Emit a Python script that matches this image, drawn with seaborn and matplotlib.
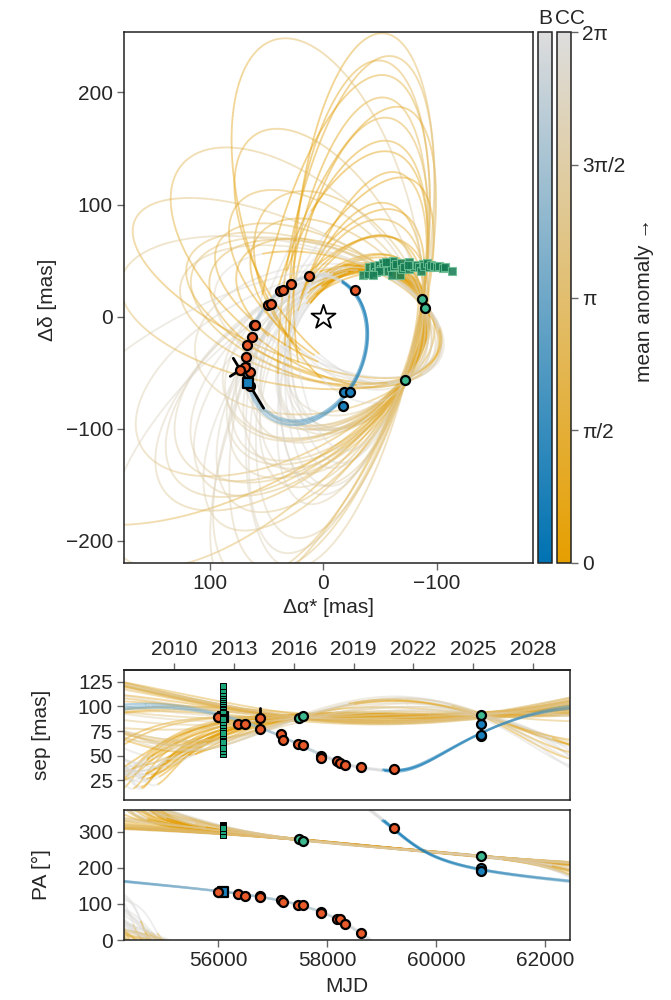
import numpy as np
import matplotlib
matplotlib.use("Agg")
import matplotlib.pyplot as plt
import seaborn as sns
from matplotlib.collections import LineCollection
from matplotlib.colors import LinearSegmentedColormap, Normalize
from matplotlib.cm import ScalarMappable

sns.set_theme(style="white")
plt.rcParams['font.family'] = ['Liberation Sans', 'DejaVu Sans']

# ---- relative astrometry ----------------------------------------------
# planet B, older epochs (vermillion points)
b_mjd = [55995, 56372, 56491, 56770, 56775, 57150, 57195, 57470, 57560,
         57878, 57882, 58180, 58240, 58320, 58615, 59215]
b_sep = [89.5, 82, 82, 88, 77.5, 72, 66, 62, 61, 50, 47.5, 44.5, 43, 41, 38.5, 36.5]
b_pa = [134, 127.5, 123, 123, 118, 111, 106, 97, 97, 78, 76, 59, 57, 45, 19, 311]
b_sep_err = [0, 0, 0, 10, 0, 0, 0, 0, 0, 0, 0, 0, 0, 0, 0, 0]
# planet B, recent epoch (blue points)
b2_mjd = [60810, 60810, 60810]
b2_sep = [70, 71, 82]
b2_pa = [195, 199, 192]
# planet B, single epoch with correlated error (blue square)
bsq_mjd = [56080]
bsq_sep = [89.0]
bsq_pa = [132.0]
bsq_err_major = 26.0      # mas
bsq_err_angle = 31.0      # deg, position angle of major axis
# planet C (green points)
c_mjd = [57480, 57560, 60810]
c_sep = [88, 90, 91.5]
c_pa = [280, 275, 232]
# planet C, candidate positions at one epoch (green squares)
sq_mjd = 56080
sq_ra = [-35.2, -39.0, -40.5, -43.5, -44.9, -46.4, -47.9, -49.3, -50.8, -52.3, -53.7,
         -55.2, -56.7, -58.2, -59.6, -61.1, -60.5, -62.6, -64.0, -67.6, -68.4, -69.3,
         -71.4, -75.2, -75.8, -77.2, -80.2, -82.2, -84.6, -86.0, -87.5, -89.0, -91.0,
         -93.4, -94.9, -97.8, -99.9, -102.2, -105.2, -107.5, -113.4, -74.3, -49.3,
         -43.5, -55.2]
sq_dec = [37.5, 38.1, 44.0, 42.6, 45.5, 39.6, 44.6, 46.4, 42.6, 47.6, 44.0, 45.5,
          41.1, 48.5, 44.6, 49.4, 37.5, 45.5, 47.0, 37.5, 47.6, 42.6, 44.6, 48.5, 42.6,
          45.5, 44.6, 46.4, 44.0, 40.5, 47.0, 45.5, 47.6, 44.6, 46.4, 45.5, 44.0, 45.5,
          43.5, 44.6, 41.1, 46.4, 41.1, 37.5, 48.5]

# ---- posterior orbit draws (Thiele-Innes elements, mas; P in yr; tp in MJD) ----
b_period = [22.5, 22.0, 23.0]
b_ecc = [0.480, 0.480, 0.480]
b_tp = [50768, 51009, 50607]
b_A = [60.55, 58.53, 62.01]
b_B = [-30.30, -31.57, -30.92]
b_F = [-28.48, -31.77, -29.09]
b_G = [-50.94, -48.50, -50.24]

c_period = [40.8, 37.1, 52.8, 54.2, 47.3, 44.3, 39.8, 39.7, 60.3, 33.2,
            86.4, 69.6, 38.2, 59.4, 42.6, 76.9, 91.9, 50.1, 61.6, 45.8,
            43.3, 118.0, 87.3, 99.2, 44.3, 128.7, 100.8, 66.0, 51.3, 50.6,
            65.0, 86.8, 77.8, 62.8, 121.2, 79.3, 111.4, 42.0, 88.1, 41.2,
            115.2, 45.7, 131.6, 49.1, 120.3, 46.5, 154.7, 79.3, 132.8, 60.9,
            70.6, 110.4, 42.5, 71.9, 116.3, 82.7, 63.5, 45.9, 49.1, 35.3]
c_ecc = [0.651, 0.704, 0.439, 0.486, 0.653, 0.467, 0.687, 0.621, 0.618, 0.663,
         0.569, 0.587, 0.702, 0.615, 0.565, 0.560, 0.616, 0.520, 0.655, 0.508,
         0.545, 0.692, 0.506, 0.458, 0.075, 0.295, 0.530, 0.453, 0.302, 0.574,
         0.571, 0.549, 0.600, 0.319, 0.418, 0.598, 0.335, 0.372, 0.636, 0.049,
         0.516, 0.070, 0.629, 0.104, 0.459, 0.436, 0.190, 0.419, 0.300, 0.529,
         0.616, 0.619, 0.262, 0.565, 0.610, 0.553, 0.267, 0.116, 0.443, 0.217]
c_tp = [54119, 54595, 54663, 54800, 54885, 54190, 54244, 54117, 54914, 54577,
        54697, 55039, 54439, 54587, 54258, 55040, 55052, 54658, 54741, 54767,
        54682, 54695, 39078, 36566, 46575, 43979, 32702, 51623, 55460, 49722,
        52055, 55574, 53677, 38024, 29624, 54280, 41660, 47869, 53557, 53692,
        49678, 43578, 55779, 58492, 47139, 46115, 31163, 33157, 36423, 51939,
        37011, 28251, 46910, 48412, 21819, 45701, 58389, 44441, 44600, 50502]
c_A = [41.4, 39.2, 71.5, 71.0, 56.3, 52.9, 40.4, 42.1, 74.8, 32.4,
       101.1, 90.1, 38.9, 71.1, 48.1, 92.8, 105.8, 64.5, 77.7, 58.2,
       52.2, 129.8, -41.8, -48.3, -59.3, 133.1, -92.3, 70.9, 66.8, 11.6,
       70.0, 92.0, 98.9, -79.7, -88.1, 94.8, 60.9, -37.6, 106.8, 58.8,
       134.0, -55.4, 112.8, -13.5, 135.5, -53.5, 23.6, -105.6, 40.0, 64.3,
       -87.3, -107.7, -54.7, 43.8, -140.5, 34.8, -13.1, -67.1, -62.2, -22.4]
c_B = [38.7, 40.2, 6.1, 1.8, 19.9, 32.7, 35.6, 39.7, 3.0, 44.4,
       -43.1, -21.7, 39.5, 6.5, 32.2, -35.7, -48.2, 11.8, 4.6, 22.0,
       26.9, -70.4, 61.7, 62.9, 0.4, 15.6, 60.1, 24.3, -25.3, 53.0,
       24.2, -67.1, -5.4, -99.7, 69.0, -20.9, 48.6, 41.7, -14.9, 56.8,
       -7.7, -93.7, -127.0, -113.6, -2.7, 36.0, 66.7, -50.6, 56.1, 30.8,
       9.1, 58.3, 6.2, 44.1, 6.1, 45.5, -140.0, -64.1, 13.9, 61.6]
c_F = [81.8, 85.0, 32.8, 33.0, 67.0, 56.2, 84.9, 85.2, 53.9, 78.2,
       27.1, 38.5, 88.3, 58.8, 68.1, 23.7, 28.1, 47.5, 68.6, 46.8,
       54.7, 47.7, 174.7, 187.4, 25.3, 137.2, 181.8, 84.8, -8.1, 113.3,
       107.2, -3.4, 74.1, -11.3, 192.4, 51.6, 176.8, 68.1, 79.4, 16.4,
       112.5, -37.5, -28.7, -61.1, 144.0, 78.6, 222.9, 16.8, 204.6, 100.0,
       92.7, 193.4, 43.4, 143.6, 103.5, 173.0, -69.7, -6.5, 65.4, 62.3]
c_G = [-68.9, -62.7, -101.6, -100.3, -96.8, -76.4, -74.0, -68.1, -110.8, -61.3,
       -129.2, -126.4, -65.8, -107.5, -80.5, -127.3, -137.6, -96.5, -114.3, -90.5,
       -86.9, -166.6, -8.1, -6.7, 101.0, -90.4, 19.4, -87.5, -107.7, -32.1,
       -80.2, -131.5, -113.6, 98.4, 2.1, -124.3, -61.8, 73.5, -123.5, -81.3,
       -108.7, 58.6, -151.7, -16.1, -111.0, 75.6, -47.3, 112.0, -63.6, -77.4,
       106.2, 28.3, 100.6, -53.9, 106.7, -57.4, -23.2, 94.5, 98.6, 67.7]

mjd_range = (54273, 62450)
year_ticks = [2010, 2013, 2016, 2019, 2022, 2025, 2028]
cb_ticks = ["0", "π/2", "π", "3π/2", "2π"]

# ---- helpers -----------------------------------------------------------
def radec(sep, pa):
    p = np.radians(np.asarray(pa, float))
    s = np.asarray(sep, float)
    return s*np.sin(p), s*np.cos(p)

def kepler(M, e):
    E = np.where(e > 0.8, np.pi + 0*M, M)
    for _ in range(40):
        E = E - (E - e*np.sin(E) - M)/(1 - e*np.cos(E))
    return E

def ti_coords(E, e):
    return np.cos(E) - e, np.sqrt(1 - e**2)*np.sin(E)

W, H = 671, 1000
fig = plt.figure(figsize=(W/100, H/100), dpi=100)
def rect(l, t, r, b):
    return [l/W, 1-b/H, (r-l)/W, (b-t)/H]

cmapB = LinearSegmentedColormap.from_list("meanB", ["#0072B2", "#DDDDDD"])
cmapC = LinearSegmentedColormap.from_list("meanC", ["#E69F00", "#DDDDDD"])

ax = fig.add_axes(rect(124, 32, 533, 563))
axs = fig.add_axes(rect(124, 670, 570, 800))
axp = fig.add_axes(rect(124, 810, 570, 940))
caxB = fig.add_axes(rect(538, 32, 552, 563))
caxC = fig.add_axes(rect(557, 32, 571, 563))

tt = np.linspace(mjd_range[0], mjd_range[1], 1200)
Eg = np.linspace(0, 2*np.pi, 700)

def draw_orbit(P, e, tp, A, B, F, G, cmap, alpha, lw):
    # projected orbit on the sky, coloured by mean anomaly
    X, Y = ti_coords(Eg, e)
    dec = A*X + F*Y
    ra = B*X + G*Y
    M = Eg - e*np.sin(Eg)
    pts = np.column_stack([ra, dec])
    seg = np.stack([pts[:-1], pts[1:]], 1)
    ax.add_collection(LineCollection(seg, colors=cmap((M[:-1] + M[1:])/(4*np.pi)),
                                     alpha=alpha, lw=lw, zorder=2))
    # separation and position angle against time
    M = np.mod(2*np.pi*(tt - tp)/(P*365.25), 2*np.pi)
    X, Y = ti_coords(kepler(M, e), e)
    dec = A*X + F*Y
    ra = B*X + G*Y
    sep = np.hypot(ra, dec)
    pa = np.mod(np.degrees(np.arctan2(ra, dec)), 360)
    cols = cmap(M[:-1]/(2*np.pi))
    for axis, yv in ((axs, sep), (axp, pa)):
        p2 = np.column_stack([tt, yv])
        seg = np.stack([p2[:-1], p2[1:]], 1)
        keep = np.abs(np.diff(yv)) < 180
        axis.add_collection(LineCollection(seg[keep], colors=cols[keep],
                                           alpha=alpha, lw=lw, zorder=2))

for k in range(len(c_period)):
    draw_orbit(c_period[k], c_ecc[k], c_tp[k], c_A[k], c_B[k], c_F[k], c_G[k],
               cmapC, 0.5, 1.3)
for k in range(len(b_period)):
    draw_orbit(b_period[k], b_ecc[k], b_tp[k], b_A[k], b_B[k], b_F[k], b_G[k],
               cmapB, 0.6, 1.6)

RED, GREEN, BLUE = "#E85A2A", "#3DB88F", "#1A80BB"
pt = dict(edgecolor="black", linewidth=1.6, s=42, zorder=6, legend=False)

# green squares
sq_sep = np.hypot(sq_ra, sq_dec)
sq_pa = np.mod(np.degrees(np.arctan2(sq_ra, sq_dec)), 360)
sns.scatterplot(x=sq_ra, y=sq_dec, marker="s", color="#137A52", edgecolor="#6DBF94",
                linewidth=0.8, s=30, alpha=0.85, zorder=5, ax=ax, legend=False)
for axis, yv in ((axs, sq_sep), (axp, sq_pa)):
    sns.scatterplot(x=np.full(len(sq_ra), sq_mjd), y=yv, marker="s", color="#1AA67A",
                    edgecolor="black", linewidth=0.7, s=18, zorder=8, ax=axis, legend=False)

# error bars
for m, s, p, err in zip(b_mjd, b_sep, b_pa, b_sep_err):
    if err > 0:
        x0, y0 = radec([s - err, s + err], [p, p])
        ax.plot(x0, y0, color="black", lw=2, zorder=5)
        axs.plot([m, m], [s - err, s + err], color="black", lw=2, zorder=5)
x_sq, y_sq = radec(bsq_sep, bsq_pa)
ang = np.radians(bsq_err_angle)
ax.plot([x_sq[0] - bsq_err_major*np.sin(ang), x_sq[0] + bsq_err_major*np.sin(ang)],
        [y_sq[0] - bsq_err_major*np.cos(ang), y_sq[0] + bsq_err_major*np.cos(ang)],
        color="black", lw=2, zorder=5)

# sky-plane points
x, y = radec(b_sep, b_pa)
sns.scatterplot(x=x, y=y, color=RED, ax=ax, **pt)
sns.scatterplot(x=x_sq, y=y_sq, marker="s", color=BLUE, ax=ax, **pt)
x, y = radec(b2_sep, b2_pa)
sns.scatterplot(x=x, y=y, color=BLUE, ax=ax, **pt)
x, y = radec(c_sep, c_pa)
sns.scatterplot(x=x, y=y, color=GREEN, ax=ax, **pt)
ax.scatter([0], [0], marker="*", s=330, c="white", edgecolor="black", linewidth=1.3, zorder=7)

# time series points
for axis, yb, yb2, ysq, yc in ((axs, b_sep, b2_sep, bsq_sep, c_sep), (axp, b_pa, b2_pa, bsq_pa, c_pa)):
    sns.scatterplot(x=bsq_mjd, y=ysq, marker="s", color=BLUE, ax=axis, **pt)
    sns.scatterplot(x=b_mjd, y=yb, color=RED, ax=axis, **pt)
    sns.scatterplot(x=b2_mjd, y=yb2, color=BLUE, ax=axis, **pt)
    sns.scatterplot(x=c_mjd, y=yc, color=GREEN, ax=axis, **pt)

# ---- axes cosmetics ------------------------------------------------------
FS = 15
ax.set_xlim(176, -185)
ax.set_ylim(-220, 254)
ax.set_xticks([100, 0, -100], labels=["100", "0", "−100"])
ax.set_yticks([-200, -100, 0, 100, 200], labels=["−200", "−100", "0", "100", "200"])
ax.set_xlabel("Δα* [mas]", fontsize=FS, va="center")
ax.set_ylabel("Δδ [mas]", fontsize=FS, va="center")
ax.xaxis.set_label_coords(0.5, -0.083)
ax.yaxis.set_label_coords(-0.188, 0.495)

axs.set_xlim(*mjd_range)
axs.set_ylim(5, 137)
axp.set_xlim(*mjd_range)
axp.set_ylim(0, 360)
axs.set_yticks([25, 50, 75, 100, 125])
axp.set_yticks([0, 100, 200, 300])
axp.set_xticks([56000, 58000, 60000, 62000])
axs.set_ylabel("sep [mas]", fontsize=FS, va="center")
axp.set_ylabel("PA [°]", fontsize=FS, va="center")
axp.set_xlabel("MJD", fontsize=FS, va="center")
axs.yaxis.set_label_coords(-0.184, 0.5)
axp.yaxis.set_label_coords(-0.184, 0.5)
axp.xaxis.set_label_coords(0.5, -0.36)

for a_ in (ax, axs, axp):
    a_.tick_params(labelsize=FS, length=5, width=1, color="#666666", bottom=True, left=True,
                   direction="out", pad=3)
    for sp in a_.spines.values():
        sp.set_color("#222222")
        sp.set_linewidth(1.1)
axs.tick_params(bottom=False, labelbottom=False)
sec = axs.secondary_xaxis("top", functions=(lambda m: 2000 + (m - 51544.5)/365.25,
                                           lambda yr: (yr - 2000)*365.25 + 51544.5))
sec.set_xticks(year_ticks)
sec.tick_params(labelsize=FS, length=5, width=1, color="#666666", pad=3)

# ---- colour bars ---------------------------------------------------------
norm = Normalize(0, 2*np.pi)
cbB = fig.colorbar(ScalarMappable(norm, cmapB), cax=caxB)
cbC = fig.colorbar(ScalarMappable(norm, cmapC), cax=caxC)
caxB.set_yticks([])
cbC.set_ticks([0, np.pi/2, np.pi, 3*np.pi/2, 2*np.pi], labels=cb_ticks)
caxC.tick_params(labelsize=FS, length=5, width=1, right=True, color="#666666", pad=3)
for cb in (cbB, cbC):
    cb.outline.set_edgecolor("#222222")
    cb.outline.set_linewidth(1.1)
fig.text(645/W, 1 - 300/H, "mean anomaly →", rotation=90, fontsize=FS, ha="center", va="center")
fig.text(545/W, 1 - 19/H, "B", fontsize=FS, ha="center", va="center")
fig.text(555/W, 1 - 19/H, "CC", fontsize=FS, ha="left", va="center")

fig.savefig("out.png", dpi=100)
